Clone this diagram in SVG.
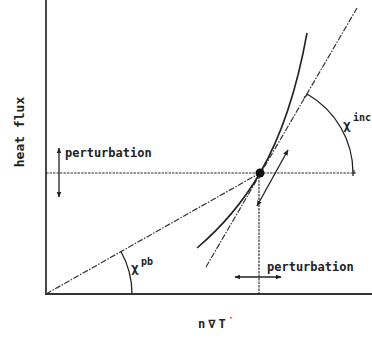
<svg xmlns="http://www.w3.org/2000/svg" width="372" height="338" viewBox="0 0 372 338">
<style>
.ax{stroke:#333;stroke-width:1.8;fill:none}
.dd{stroke:#333;stroke-width:1.2;fill:none;stroke-dasharray:6,1.5,1.5,1.5}
.dt{stroke:#333;stroke-width:1.2;fill:none;stroke-dasharray:2.5,1}
.sl{stroke:#222;stroke-width:1.6;fill:none}
.ar{stroke:#222;stroke-width:1.3;fill:none}
text{font-family:"DejaVu Sans Mono","Liberation Mono",monospace;font-weight:bold;fill:#222}
.lb{font-size:12px}
</style>
<defs>
<marker id="ah" viewBox="0 0 10 10" refX="9" refY="5" markerWidth="6" markerHeight="6" orient="auto-start-reverse" markerUnits="userSpaceOnUse">
<path d="M0,1 L10,5 L0,9 Z" fill="#222"/>
</marker>
</defs>
<g id="axes">
<line class="ax" x1="46" y1="0" x2="46" y2="294"/>
<line class="ax" x1="45" y1="294" x2="372" y2="294"/>
</g>
<g id="connectors">
<line class="dt" x1="46" y1="173" x2="356" y2="173"/>
<line class="ax" x1="354" y1="170" x2="354" y2="174" style="stroke-width:1.2"/>
<line class="dt" x1="259" y1="173" x2="259" y2="294"/>
<line class="dd" x1="46" y1="294" x2="260" y2="173"/>
<line class="dd" x1="206" y1="267" x2="357" y2="8"/>
<path class="sl" d="M197,248 C227,222.5 245,198.7 260,173 C288,125 300,72 307,33"/>
<line class="ar" x1="257" y1="206" x2="288" y2="150" marker-start="url(#ah)" marker-end="url(#ah)"/>
<line class="ar" x1="59" y1="148" x2="59" y2="197" marker-start="url(#ah)" marker-end="url(#ah)"/>
<line class="ar" x1="235" y1="277" x2="281" y2="277" marker-start="url(#ah)" marker-end="url(#ah)"/>
<path class="ar" d="M304,98 L307.5,94.2 A91,91 0 0 1 353,173 L353,176"/>
<path class="ar" d="M120.8,251.3 A87,87 0 0 1 132,294"/>
</g>
<g id="point">
<circle cx="260" cy="173" r="4.5" fill="#111"/>
</g>
<g id="labels">
<text class="lb" x="65" y="157">perturbation</text>
<text class="lb" x="267" y="271">perturbation</text>
<text class="lb" transform="translate(24,132) rotate(-90)" text-anchor="middle" style="font-size:13px">heat flux</text>
<text class="lb" x="198" y="328" letter-spacing="3">n∇T<tspan dy="-6" font-size="7">'</tspan></text>
<text x="131" y="272" style="font-size:13px">χ</text>
<text x="141" y="265" style="font-size:10px">pb</text>
<text x="343" y="129" style="font-size:13px">χ</text>
<text x="353" y="121" style="font-size:10px">inc</text>
</g>
</svg>
